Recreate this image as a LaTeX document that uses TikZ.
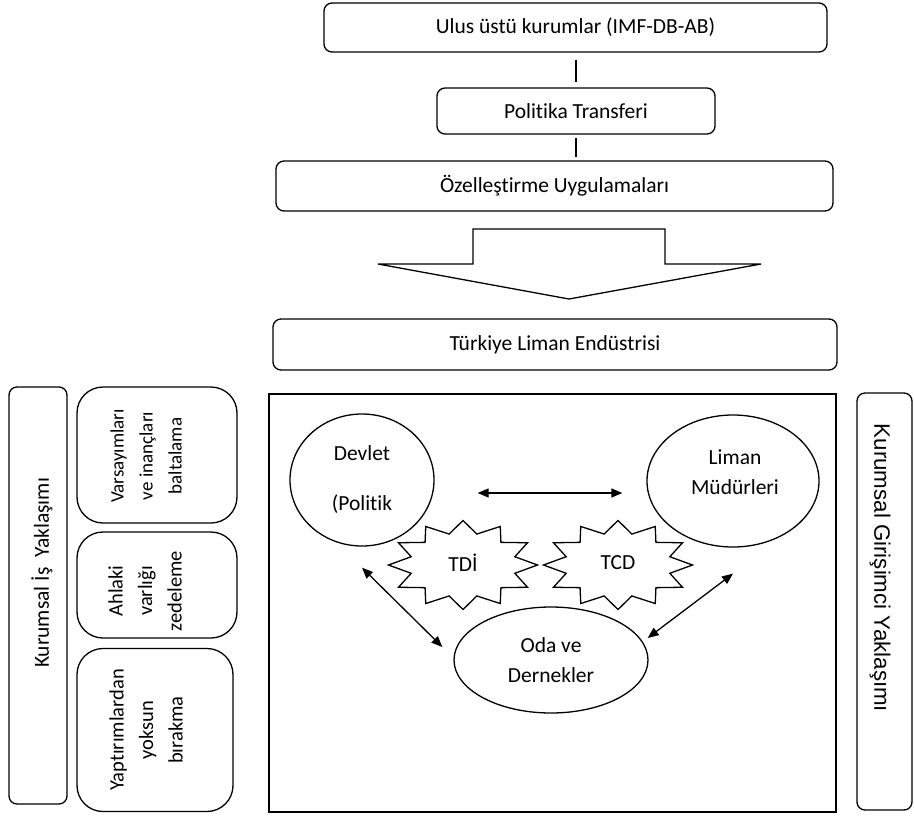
\documentclass[tikz,border=0pt]{standalone}
\usepackage{fontspec}
\setmainfont{Carlito}[Ligatures={NoCommon}]
\newfontfamily\arialf{Liberation Sans}
\usetikzlibrary{arrows.meta,shapes.geometric}
\begin{document}
\begin{tikzpicture}[x=1pt,y=-1pt,
  every node/.style={font=\fontsize{21.5}{26}\selectfont, inner sep=0pt},
  ln/.style={line width=1.3pt},
  rbox/.style={draw, ln, rounded corners=8pt},
  lbox/.style={draw, ln, rounded corners=26pt},
  oval/.style={draw, ln, ellipse},
  dbl/.style={ln, {Triangle[length=11pt,width=9pt]}-{Triangle[length=11pt,width=9pt]}},
  burst/.pic={\draw[ln, fill=white, line join=miter] (0:74.5 and 44.5)
     \foreach \k in {1,...,23}{ -- ({15*\k}:{74.5*(1-0.28*mod(\k,2))} and {44.5*(1-0.28*mod(\k,2))}) } -- cycle;},
  vtext/.style={rotate=90, align=center, font=\fontsize{20.5}{29.5}\selectfont}
]
\useasboundingbox (0,0) rectangle (914,815);

% top chain
\node[rbox, minimum width=503pt, minimum height=49pt] (ulus) at (575.5,27.5) {Ulus üstü kurumlar (IMF-DB-AB)};
\node[rbox, minimum width=278pt, minimum height=46pt] (pol) at (576,111) {Politika Transferi};
\node[rbox, minimum width=557pt, minimum height=50pt] (ozel) at (554.5,186) {Özelleştirme Uygulamaları};
\node[rbox, minimum width=564pt, minimum height=51pt] (tur) at (555,344.5) {Türkiye Liman Endüstrisi};
\draw[ln, shorten <=7pt, shorten >=5pt] (ulus.south -| pol.south) -- (pol.north);
\draw[ln, shorten <=3pt, shorten >=3pt] (pol.south) -- (pol.south |- ozel.north);

% big down arrow
\draw[ln, line join=miter] (473,229) -- (665,229) -- (665,264) -- (761,264) -- (569,299) -- (378,264) -- (473,264) -- cycle;

% main frame
\node[draw, ln, minimum width=567pt, minimum height=418pt] (main) at (552.5,603) {};

% left column
\node[rbox, minimum width=58pt, minimum height=417pt] (kib) at (38,595.5) {};
\node[rotate=90] (kibt) at (42,573) {Kurumsal İş\hspace{0.45em}Yaklaşımı};
\node[lbox, minimum width=160pt, minimum height=136pt] (var) at (157,455) {};
\node[vtext, font=\fontsize{19}{29}\selectfont] (vart) at (146,456) {Varsayımları\\ve inançları\\baltalama};
\node[lbox, minimum width=160pt, minimum height=106pt] (ahl) at (157,585) {};
\node[vtext] (ahlt) at (145,591) {Ahlaki\\varlığı\\zedeleme};
\node[lbox, minimum width=156pt, minimum height=163pt] (yap) at (155,730) {};
\node[vtext] (yapt) at (146,730) {Yaptırımlardan\\yoksun\\bırakma};

% right column
\node[rbox, minimum width=55pt, minimum height=417pt] (kgy) at (884.5,601.5) {};
\node[rotate=-90, font=\arialf\fontsize{22.3}{26}\selectfont] (kgyt) at (880,568) {Kurumsal Girişimci Yaklaşımı};

% actors
\node[oval, minimum width=144pt, minimum height=132pt, align=center, font=\fontsize{21.5}{50}\selectfont] (dev) at (362,480) {Devlet\\(Politik};
\node[oval, minimum width=172pt, minimum height=132pt] (lim) at (733,481) {};
\node[align=center, font=\fontsize{21.5}{30}\selectfont] (limt) at (735,472) {Liman\\Müdürleri};
\node[oval, minimum width=194pt, minimum height=106pt, align=center, font=\fontsize{21.5}{30}\selectfont] (oda) at (551,660) {Oda ve\\Dernekler};

% starbursts
\path (463,565) pic {burst};
\path (618,565) pic {burst};
\node (tdi) at (463,563) {TDİ};
\node (tcd) at (618,563) {TCD};

% connectors
\draw[dbl, shorten <=43pt, shorten >=24pt] ([yshift=-13pt]dev.east) -- ([yshift=-12pt]lim.west);
\draw[dbl] ([yshift=-21pt]dev.south) -- ([shift={(-11pt,13pt)}]oda.west);
\draw[dbl] ([yshift=-26pt]lim.south) -- ([shift={(-1pt,22pt)}]oda.east);
\end{tikzpicture}
\end{document}
